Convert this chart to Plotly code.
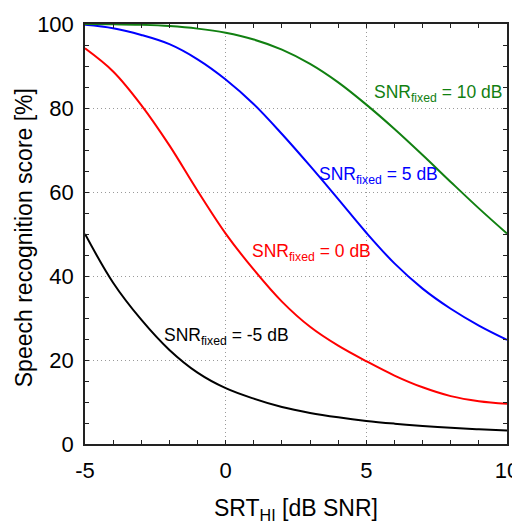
import plotly.graph_objects as go

x_vals = [-5, -4, -3, -2, -1, 0, 1, 2, 3, 4, 5, 6, 7, 8, 9, 10]

snr_m5 = [50.0, 38.4, 29.6, 22.4, 17.0, 13.3, 10.8, 8.8, 7.4, 6.35, 5.5, 4.85, 4.3, 3.85, 3.5, 3.2]
snr_0 = [94.2, 88.7, 80.7, 71.1, 60.3, 50.1, 41.5, 33.9, 27.9, 23.4, 19.7, 16.3, 13.5, 11.4, 10.2, 9.6]
snr_5 = [99.8, 99.0, 97.4, 95.2, 91.6, 86.8, 80.9, 73.8, 66.2, 58.3, 50.3, 43.0, 37.0, 32.2, 28.2, 24.8]
snr_10 = [100.0, 99.95, 99.8, 99.5, 98.9, 97.9, 96.3, 93.9, 90.5, 86.1, 80.8, 75.0, 68.8, 62.4, 56.1, 50.1]

x_ticks = [-5, 0, 5, 10]
x_tick_text = ["-5", "0", "5", "10"]

series = [
    ("SNR fixed = -5 dB", snr_m5, "#000000"),
    ("SNR fixed = 0 dB", snr_0, "#ff0000"),
    ("SNR fixed = 5 dB", snr_5, "#0000ff"),
    ("SNR fixed = 10 dB", snr_10, "#118011"),
]

FONT = "Liberation Sans, Arial, sans-serif"

fig = go.Figure()
for name, ys, col in series:
    fig.add_trace(go.Scatter(x=x_vals, y=ys, mode="lines", name=name,
                             line=dict(color=col, width=2, shape="spline", smoothing=1.0),
                             showlegend=False, hoverinfo="skip"))

labels = [
    ("SNR<sub>fixed</sub> = 10 dB", 5.2, 83.5, "#118011"),
    ("SNR<sub>fixed</sub> = 5 dB", 3.25, 64.0, "#0000ff"),
    ("SNR<sub>fixed</sub> = 0 dB", 0.85, 45.5, "#ff0000"),
    ("SNR<sub>fixed</sub> = -5 dB", -2.25, 25.5, "#000000"),
]
for txt, lx, ly, col in labels:
    fig.add_annotation(x=lx, y=ly, text=txt, showarrow=False, xanchor="left", yanchor="middle",
                       font=dict(family=FONT, size=17.5, color=col))

# y-axis title as a rotated paper-anchored annotation for exact placement
fig.add_annotation(xref="paper", yref="paper", x=-0.1445, y=0.49, text="Speech recognition score [%]",
                   textangle=-90, showarrow=False, xanchor="center", yanchor="middle",
                   font=dict(family=FONT, size=23, color="#000000"))

axis_common = dict(
    showline=True, linecolor="#222222", linewidth=1.5, mirror="allticks",
    ticks="inside", ticklen=4, tickwidth=1, tickcolor="#222222",
    showgrid=True, gridcolor="#9a9a9a", griddash="1px,3px", gridwidth=1,
    zeroline=False, automargin=False, tickfont=dict(family=FONT, size=22, color="#000000"),
)

fig.update_xaxes(range=[-5, 10], tickvals=x_ticks, ticktext=x_tick_text, ticklabelstandoff=6,
                 **axis_common,
                 minor=dict(dtick=1, tick0=-5, ticks="inside", ticklen=4, tickcolor="#222222", showgrid=False),
                 title=dict(text="SRT<sub>HI</sub> [dB SNR]", font=dict(family=FONT, size=23, color="#000000"),
                            standoff=30))
fig.update_yaxes(range=[0, 100], tick0=0, dtick=20, ticklabelstandoff=5, **axis_common,
                 minor=dict(dtick=5, ticks="inside", ticklen=4, tickcolor="#222222", showgrid=False))

# page body has an 8px margin, so the figure is shifted by (8, 8) in the window
fig.update_layout(width=512, height=516, margin=dict(l=77, r=13, t=16, b=80),
                  plot_bgcolor="white", paper_bgcolor="white")

fig.write_html("out.html")
